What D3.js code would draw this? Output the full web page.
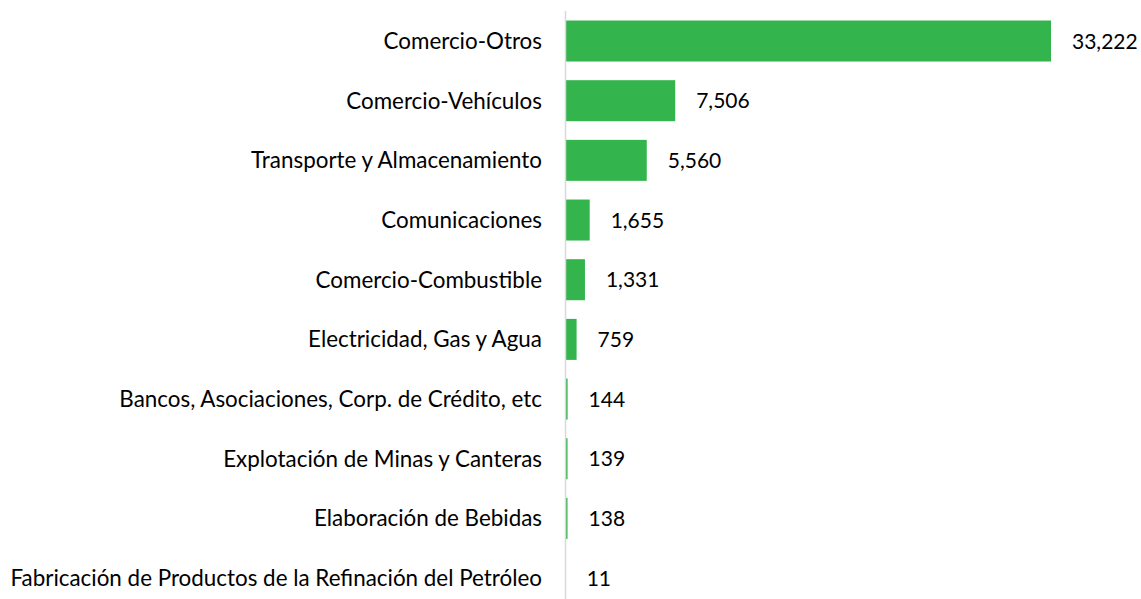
<!doctype html>
<html>
<head>
<meta charset="utf-8">
<title>Sectores</title>
<style>
  body { margin: 0; background: #fff; }
  text { font-family: Lato, "Open Sans", sans-serif; fill: #000; }
</style>
</head>
<body>
<svg width="1141" height="599"></svg>
<script src="https://d3js.org/d3.v7.min.js"></script>
<script>
const categories = [
  "Comercio-Otros",
  "Comercio-Vehículos",
  "Transporte y Almacenamiento",
  "Comunicaciones",
  "Comercio-Combustible",
  "Electricidad, Gas y Agua",
  "Bancos, Asociaciones, Corp. de Crédito, etc",
  "Explotación de Minas y Canteras",
  "Elaboración de Bebidas",
  "Fabricación de Productos de la Refinación del Petróleo"
];
const values = [33222, 7506, 5560, 1655, 1331, 759, 144, 139, 138, 11];

const svg = d3.select("svg");
const axisX = 565.5;

const x = d3.scaleLinear()
  .domain([0, 33222])
  .range([axisX, 1051]);

const y = d3.scaleBand()
  .domain(categories)
  .range([11.2, 607.9])
  .paddingInner(0.313)
  .paddingOuter(0.156);

// bars
svg.append("g")
  .selectAll("rect")
  .data(values)
  .enter()
  .append("rect")
  .attr("x", axisX)
  .attr("y", (d, i) => y(categories[i]))
  .attr("width", d => x(d) - axisX)
  .attr("height", y.bandwidth())
  .attr("fill", "#34b44d");

// axis line
svg.append("line")
  .attr("x1", axisX).attr("x2", axisX)
  .attr("y1", 11).attr("y2", 599)
  .attr("stroke", "#d9d9d9")
  .attr("stroke-width", 1.5);

// category labels
svg.append("g")
  .selectAll("text")
  .data(categories)
  .enter()
  .append("text")
  .attr("x", 542)
  .attr("y", d => y(d) + y.bandwidth() / 2)
  .attr("dy", "0.36em")
  .attr("text-anchor", "end")
  .attr("font-size", "22.4px")
  .text(d => d);

// value labels
svg.append("g")
  .selectAll("text")
  .data(values)
  .enter()
  .append("text")
  .attr("x", d => x(d) + 21)
  .attr("y", (d, i) => y(categories[i]) + y.bandwidth() / 2)
  .attr("dy", "0.36em")
  .attr("font-size", "21px")
  .text(d => d3.format(",")(d));
</script>
</body>
</html>
